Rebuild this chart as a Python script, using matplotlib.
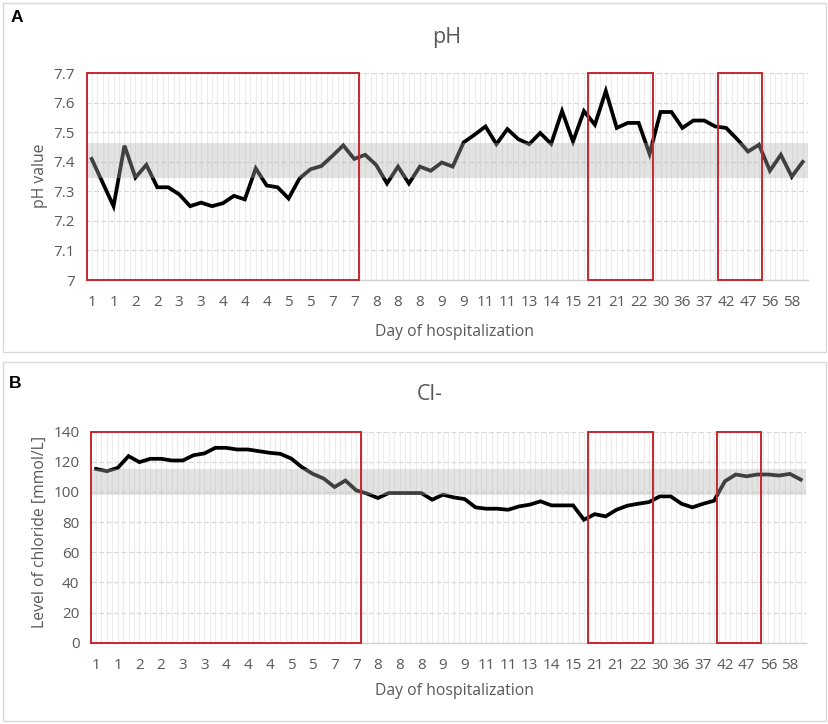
import matplotlib
matplotlib.use("Agg")
import matplotlib.pyplot as plt
from matplotlib.patches import Rectangle
import numpy as np

# ---------------- data ----------------
day_labels = ["1", "1", "2", "2", "3", "3", "4", "4", "4", "5", "5", "7", "7",
              "8", "8", "8", "9", "9", "11", "11", "13", "14", "15", "21", "21",
              "22", "30", "36", "37", "42", "47", "56", "58"]

ph_values = [7.41, 7.33, 7.25, 7.455, 7.347, 7.39, 7.314, 7.314, 7.29, 7.25,
             7.262, 7.25, 7.26, 7.285, 7.273, 7.378, 7.32, 7.314, 7.276, 7.344,
             7.375, 7.386, 7.42, 7.456, 7.41, 7.424, 7.39, 7.327, 7.384, 7.327,
             7.384, 7.37, 7.398, 7.384, 7.466, 7.492, 7.52, 7.46, 7.511, 7.477,
             7.46, 7.498, 7.461, 7.572, 7.469, 7.572, 7.526, 7.64, 7.515, 7.532,
             7.532, 7.427, 7.569, 7.569, 7.515, 7.54, 7.54, 7.52, 7.515, 7.477,
             7.435, 7.458, 7.37, 7.424, 7.35, 7.40]

cl_values = [115.3, 113.8, 116, 123.8, 119.8, 122, 122, 120.9, 120.9, 124.4,
             125.6, 129.3, 129.3, 128.2, 128.2, 127.1, 126, 125.3, 122.2, 116.4,
             112, 108.9, 103.3, 107.6, 101.1, 98.9, 96, 99.3, 99.3, 99.3,
             99.3, 94.9, 98.2, 96.4, 95.3, 89.8, 88.9, 88.9, 88.2, 90.4,
             91.6, 93.8, 91.1, 91.1, 91.1, 81.6, 85.3, 83.8, 88.2, 90.9,
             92.2, 93.3, 97.1, 97.1, 92.2, 89.8, 92.2, 94.2, 107.1, 111.6,
             110.4, 111.6, 111.6, 110.9, 112, 108.2]

ph_normal = (7.345, 7.465)
cl_normal = (98, 115.5)

# red boxes (in category index units)
box_ranges = [(-0.45, 24.45), (45.4, 51.35), (57.25, 61.3)]

ph_ticks = [7, 7.1, 7.2, 7.3, 7.4, 7.5, 7.6, 7.7]
ph_ticklabels = ["7", "7.1", "7.2", "7.3", "7.4", "7.5", "7.6", "7.7"]
cl_ticks = [0, 20, 40, 60, 80, 100, 120, 140]

# ---------------- figure ----------------
W, H = 829, 724
fig = plt.figure(figsize=(W / 100, H / 100), dpi=100)
fig.patch.set_facecolor("white")

FONT = ["Open Sans", "DejaVu Sans"]
TXT = "#595959"
TICK_FS = 11
LAB_FS = 11.3


def px_axes(l, t, r, b):
    return fig.add_axes([l / W, 1 - b / H, (r - l) / W, (b - t) / H])


def style(ax, values, ylim, yticks, yticklabels, band):
    n = len(values)
    x = np.arange(n)
    ax.set_xlim(-0.5, n - 0.5)
    ax.set_ylim(*ylim)
    # vertical minor grid
    for gx in np.arange(-0.5, n, 0.5):
        ax.axvline(gx, color="#ececec", lw=0.8, zorder=0)
    # horizontal dashed grid
    for gy in yticks[1:]:
        ax.axhline(gy, color="#d9d9d9", lw=0.9, ls=(0, (4, 2)), zorder=0.5)
    ax.plot(x, values, color="black", lw=2.7, zorder=2, solid_joinstyle="miter")
    ax.axhspan(band[0], band[1], color=(0.70, 0.70, 0.70), alpha=0.36, lw=0, zorder=3)
    for (a, b) in box_ranges:
        ax.add_patch(Rectangle((a, ylim[0]), b - a, ylim[1] - ylim[0],
                               fill=False, edgecolor="#c3282e", lw=1.4,
                               zorder=4, clip_on=False))
    for s in ["top", "right", "left"]:
        ax.spines[s].set_visible(False)
    ax.spines["bottom"].set_color("#d0d0d0")
    ax.spines["bottom"].set_linewidth(1.0)
    ax.set_xticks(x[::2])
    ax.set_xticklabels(day_labels, fontsize=TICK_FS, color=TXT, family=FONT)
    ax.set_yticks(yticks)
    ax.set_yticklabels(yticklabels, fontsize=TICK_FS, color=TXT, family=FONT)
    ax.tick_params(axis="both", length=0)
    ax.tick_params(axis="x", pad=11)
    ax.tick_params(axis="y", pad=8)
    ax.set_facecolor("white")


# panel frames
for (t, b) in [(3, 352), (362, 721)]:
    fig.patches.append(Rectangle((3 / W, 1 - b / H), (823) / W, (b - t) / H,
                                 transform=fig.transFigure, fill=False,
                                 edgecolor="#d9d9d9", lw=1.0))

# --- Panel A ---
axA = px_axes(86.2, 73.3, 808.2, 280)
style(axA, ph_values, (7.0, 7.7), ph_ticks, ph_ticklabels, ph_normal)
fig.text(17 / W, 1 - 18 / H, "A", fontsize=12.5, fontweight="bold",
         family=["Liberation Sans", "DejaVu Sans"], ha="center", va="center")
fig.text(447 / W, 1 - 37 / H, "pH", fontsize=15.5, color=TXT, family=FONT,
         ha="center", va="center")
fig.text(40 / W, 1 - 176 / H, "pH value", fontsize=LAB_FS, color=TXT, family=FONT,
         rotation=90, ha="center", va="center")
fig.text(455 / W, 1 - 332 / H, "Day of hospitalization", fontsize=LAB_FS, color=TXT,
         family=FONT, ha="center", va="center")

# --- Panel B ---
axB = px_axes(90.6, 431.7, 806.2, 642.7)
style(axB, cl_values, (0, 140), cl_ticks, [str(v) for v in cl_ticks], cl_normal)
fig.text(15 / W, 1 - 383 / H, "B", fontsize=12.5, fontweight="bold",
         family=["Liberation Sans", "DejaVu Sans"], ha="center", va="center")
fig.text(430 / W, 1 - 394 / H, "Cl-", fontsize=15.5, color=TXT, family=FONT,
         ha="center", va="center")
fig.text(40 / W, 1 - 532 / H, "Level of chloride [mmol/L]", fontsize=LAB_FS, color=TXT,
         family=FONT, rotation=90, ha="center", va="center")
fig.text(455 / W, 1 - 691 / H, "Day of hospitalization", fontsize=LAB_FS, color=TXT,
         family=FONT, ha="center", va="center")

fig.savefig("out.png", dpi=100, facecolor="white")
